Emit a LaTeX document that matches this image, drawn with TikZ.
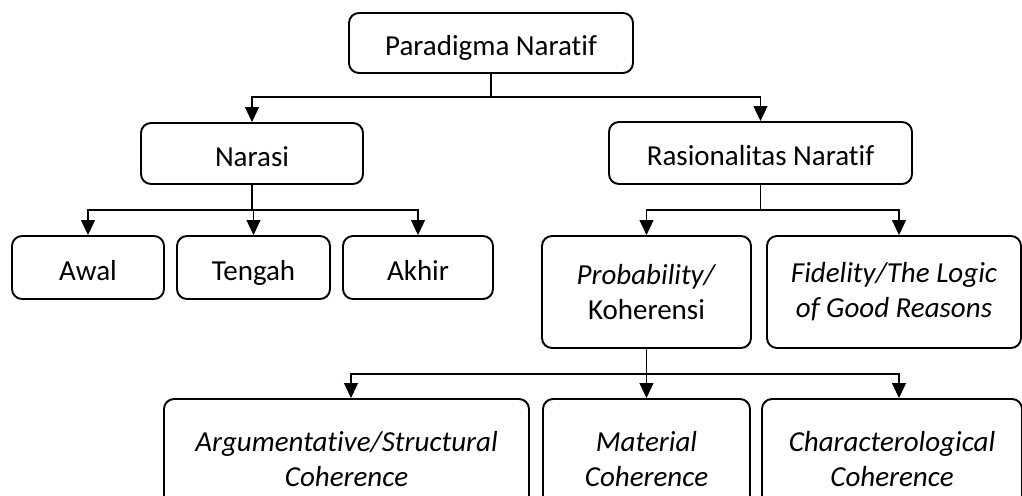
\documentclass[tikz,border=0pt]{standalone}
\usepackage{fontspec}
\setmainfont{Carlito}[Ligatures={NoCommon}]
\usepackage{tikz}
\usetikzlibrary{arrows.meta, calc}

\begin{document}
\begin{tikzpicture}[x=0.02cm, y=-0.02cm,
    box/.style={draw, line width=1.1pt, rounded corners=0.2cm, align=center, font=\fontsize{16.5pt}{19.9pt}\selectfont},
    oneline/.style={box, text height=0.6cm, text depth=0.1cm},
    conn/.style={line width=0.6pt},
    arr/.style={line width=0.6pt, -{Triangle[length=0.3cm, width=0.28cm]}}]
    \useasboundingbox (0,0) rectangle (1022,495);
    \clip (0,0) rectangle (1022,495);

    % Root
    \node[oneline, minimum width=284*0.02cm, minimum height=60*0.02cm] (par) at (491, 43) {Paradigma Naratif};

    % Level 1
    \node[oneline, minimum width=222*0.02cm, minimum height=61*0.02cm] (nar) at (252, 153.5) {Narasi};
    \node[oneline, minimum width=303*0.02cm, minimum height=62*0.02cm] (ras) at (760.5, 153) {Rasionalitas Naratif};

    % Narasi parts
    \node[oneline, minimum width=152*0.02cm, minimum height=63*0.02cm] (awal) at (88, 267.5) {Awal};
    \node[oneline, minimum width=153*0.02cm, minimum height=63*0.02cm] (teng) at (253.5, 267.5) {Tengah};
    \node[oneline, minimum width=150*0.02cm, minimum height=63*0.02cm] (akh) at (418, 267.5) {Akhir};

    % Rasionalitas parts
    \node[box, minimum width=209*0.02cm, minimum height=112*0.02cm] (prob) at (646.5, 292) {\textit{Probability/}\\Koherensi};
    \node[box, minimum width=254*0.02cm, minimum height=112*0.02cm] (fid) at (894, 292) {\textit{Fidelity/The Logic}\\\textit{of Good Reasons}};

    % Coherence types
    \node[box, minimum width=365*0.02cm, minimum height=120*0.02cm] (arg) at (346.5, 459) {\textit{Argumentative/Structural}\\\textit{Coherence}};
    \node[box, minimum width=207*0.02cm, minimum height=120*0.02cm] (mat) at (646.5, 459) {\textit{Material}\\\textit{Coherence}};
    \node[box, minimum width=260*0.02cm, minimum height=120*0.02cm] (chr) at (892, 459) {\textit{Characterological}\\\textit{Coherence}};

    % Connectors
    \draw[conn] (par.south) -- ++(0,23) coordinate (parbr);
    \draw[arr] (parbr) -| (nar.north);
    \draw[arr] (parbr) -| (ras.north);

    \draw[conn] (nar.south) -- ++(0,25) coordinate (narbr);
    \draw[arr] (narbr) -| (awal.north);
    \draw[arr] (narbr) -| (teng.north);
    \draw[arr] (narbr) -| (akh.north);

    \draw[conn] (ras.south) -- ++(0,25) coordinate (rasbr);
    \draw[arr] (rasbr) -| (prob.north);
    \draw[arr] (rasbr) -| ([xshift=0.1cm]fid.north);

    \draw[conn] (prob.south) -- ++(0,25) coordinate (probbr);
    \draw[arr] (probbr) -| ([xshift=0.09cm]arg.north);
    \draw[arr] (probbr) -| (mat.north);
    \draw[arr] (probbr) -| ([xshift=0.14cm]chr.north);
\end{tikzpicture}
\end{document}
